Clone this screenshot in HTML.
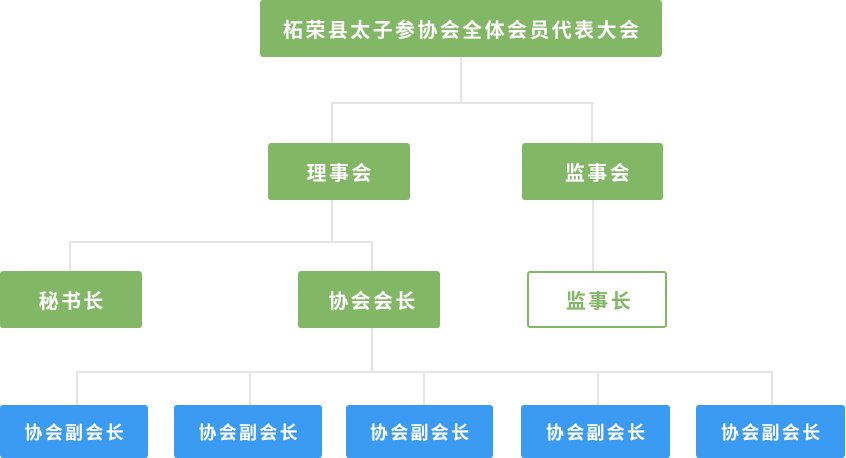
<!DOCTYPE html>
<html>
<head>
<meta charset="utf-8">
<style>
  html, body { margin: 0; padding: 0; background: #ffffff; }
  body { width: 846px; height: 456px; position: relative; overflow: hidden;
         font-family: "Liberation Sans", "Noto Sans CJK SC", "WenQuanYi Zen Hei", sans-serif; }
  .l { position: absolute; background: #e5e5e5; }
  .b { position: absolute; box-sizing: border-box; border-radius: 3px;
       display: flex; align-items: center; justify-content: center;
       color: #ffffff; font-weight: bold; white-space: nowrap; }
  .g { background: #82b865; font-size: 20px; letter-spacing: 2.4px; padding-left: 2.4px; }
  .o { background: #ffffff; border: 2px solid #82b865; color: #82b865; font-size: 20px; letter-spacing: 2.4px; padding-left: 2.4px; }
  .u { background: #3b9bf2; font-size: 18px; letter-spacing: 2.3px; padding-left: 2.3px; }
</style>
</head>
<body>
  <!-- connectors -->
  <div class="l" style="left:460px; top:57px; width:2px; height:47px;"></div>
  <div class="l" style="left:331px; top:102px; width:263px; height:2px;"></div>
  <div class="l" style="left:331px; top:102px; width:2px; height:41px;"></div>
  <div class="l" style="left:591px; top:102px; width:2px; height:41px;"></div>

  <div class="l" style="left:331px; top:200px; width:2px; height:43px;"></div>
  <div class="l" style="left:69px; top:241px; width:304px; height:2px;"></div>
  <div class="l" style="left:69px; top:241px; width:2px; height:30px;"></div>
  <div class="l" style="left:371px; top:241px; width:2px; height:30px;"></div>

  <div class="l" style="left:592px; top:200px; width:2px; height:71px;"></div>

  <div class="l" style="left:371px; top:327px; width:2px; height:46px;"></div>
  <div class="l" style="left:76px; top:371px; width:697px; height:2px;"></div>
  <div class="l" style="left:76px; top:371px; width:2px; height:34px;"></div>
  <div class="l" style="left:249px; top:371px; width:2px; height:34px;"></div>
  <div class="l" style="left:423px; top:371px; width:2px; height:34px;"></div>
  <div class="l" style="left:597px; top:371px; width:2px; height:34px;"></div>
  <div class="l" style="left:771px; top:371px; width:2px; height:34px;"></div>

  <!-- boxes -->
  <div class="b g" style="left:260px; top:0px; width:402px; height:57px;">柘荣县太子参协会全体会员代表大会</div>

  <div class="b g" style="left:268px; top:143px; width:142px; height:57px;">理事会</div>
  <div class="b g" style="left:522px; top:143px; width:141px; height:57px; padding-left:12px;">监事会</div>

  <div class="b g" style="left:0px; top:271px; width:142px; height:57px;">秘书长</div>
  <div class="b g" style="left:298px; top:271px; width:142px; height:57px; padding-left:8px;">协会会长</div>
  <div class="b o" style="left:527px; top:271px; width:140px; height:57px; padding-left:5px;">监事长</div>

  <div class="b u" style="left:0px; top:405px; width:148px; height:53px;">协会副会长</div>
  <div class="b u" style="left:174px; top:405px; width:148px; height:53px;">协会副会长</div>
  <div class="b u" style="left:346px; top:405px; width:147px; height:53px;">协会副会长</div>
  <div class="b u" style="left:521px; top:405px; width:149px; height:53px;">协会副会长</div>
  <div class="b u" style="left:696px; top:405px; width:149px; height:53px;">协会副会长</div>
</body>
</html>
